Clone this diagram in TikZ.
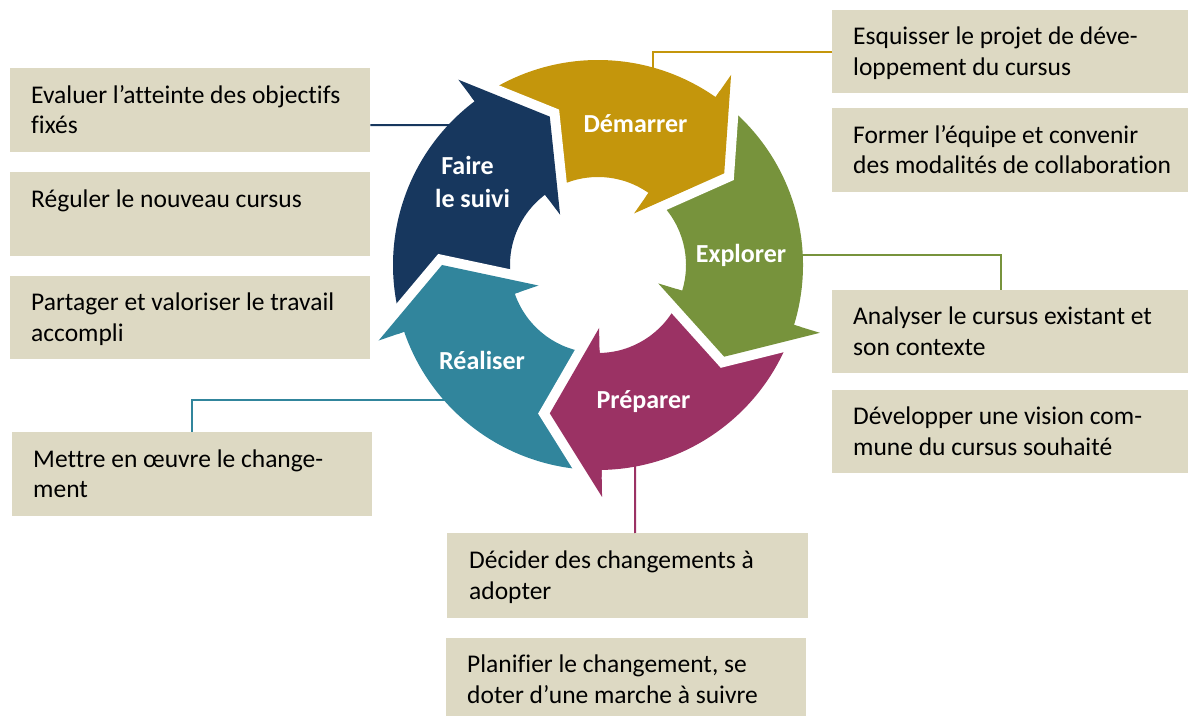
\documentclass[tikz,border=0pt]{standalone}
\usepackage{fontspec}
\setmainfont[Ligatures=CommonOff]{Carlito}
\definecolor{cgold}{HTML}{C4960C}
\definecolor{cgreen}{HTML}{77933C}
\definecolor{cmag}{HTML}{9B3264}
\definecolor{cteal}{HTML}{31859C}
\definecolor{cnavy}{HTML}{17375E}
\definecolor{boxtan}{HTML}{DDD9C3}
\newcommand\mystrut{\rule[-7.5pt]{0pt}{30.5pt}}
\begin{document}
\begin{tikzpicture}[x=1pt,y=1pt,
  tbox/.style={fill=boxtan, draw=none, inner sep=0pt, anchor=north west},
  ttext/.style={align=left, inner sep=0pt, font=\fontsize{25.5}{30.5}\selectfont, text=black, anchor=west,
    execute at begin node=\mystrut, execute at end node=\mystrut},
  lbl/.style={text=white, font=\fontsize{26}{32}\selectfont\bfseries, inner sep=0pt, anchor=base},
  conn/.style={line width=2pt}]
\useasboundingbox (0,0) rectangle (1188,715);
\clip (0,0) rectangle (1188,715);

% boxes left
\node[tbox, minimum width=360pt, minimum height=84pt] (L1) at (10,647) {};
\node[tbox, minimum width=360pt, minimum height=84pt] (L2) at (10,543) {};
\node[tbox, minimum width=360pt, minimum height=83pt] (L3) at (10,439) {};
\node[tbox, minimum width=360pt, minimum height=84pt] (L4) at (12,283) {};
% boxes right
\node[tbox, minimum width=358pt, minimum height=83pt] (R1) at (832,705) {};
\node[tbox, minimum width=358pt, minimum height=84pt] (R2) at (832,607) {};
\node[tbox, minimum width=358pt, minimum height=83pt] (R3) at (832,425) {};
\node[tbox, minimum width=358pt, minimum height=83pt] (R4) at (832,325) {};
% boxes bottom
\node[tbox, minimum width=361pt, minimum height=85pt] (B1) at (447,182) {};
\node[tbox, minimum width=360pt, minimum height=83pt] (B2) at (446,77) {};

% texts
\node[ttext] (tL1) at ([xshift=21pt,yshift=-3pt]L1.west) {Evaluer l’atteinte des objectifs\\fixés};
\node[ttext] (tL2) at ([xshift=21pt,yshift=-3pt]L2.west) {Réguler le nouveau cursus\\ };
\node[ttext] (tL3) at ([xshift=21pt,yshift=-3pt]L3.west) {Partager et valoriser le travail\\accompli};
\node[ttext] (tL4) at ([xshift=21pt,yshift=-3pt]L4.west) {Mettre en œuvre le change-\\ment};
\node[ttext] (tR1) at ([xshift=21pt,yshift=-3pt]R1.west) {Esquisser le projet de déve-\\loppement du cursus};
\node[ttext] (tR2) at ([xshift=21pt,yshift=-3pt]R2.west) {Former l’équipe et convenir\\des modalités de collaboration};
\node[ttext] (tR3) at ([xshift=21pt,yshift=-3pt]R3.west) {Analyser le cursus existant et\\son contexte};
\node[ttext] (tR4) at ([xshift=21pt,yshift=-3pt]R4.west) {Développer une vision com-\\mune du cursus souhaité};
\node[ttext] (tB1) at ([xshift=22pt,yshift=-3pt]B1.west) {Décider des changements à\\adopter};
\node[ttext] (tB2) at ([xshift=21pt,yshift=-3pt]B2.west) {Planifier le changement, se\\doter d’une marche à suivre};

% connector anchor points inside the ring
\coordinate (gA) at (653,640);
\coordinate (nA) at (460,590);
\coordinate (eA) at (795,460);
\coordinate (tA) at (452,315);
\coordinate (mA) at (635,256);

\draw[conn, cgold] (R1.west) -| (gA);
\draw[conn, cnavy] ([yshift=-15pt]L1.east) -- (nA);
\draw[conn, cgreen] (eA) -| ([xshift=-10pt]R3.north);
\draw[conn, cteal] (L4.north) |- (tA);
\draw[conn, cmag] (mA) -- ([xshift=7.5pt]B1.north);

% ring segments
\foreach \rot/\col in {127/cgold, 55/cgreen, -17/cmag, -89/cteal, -161/cnavy} {
  \fill[\col, shift={(598,450)}, rotate=\rot]
    (-4.65:205) arc[start angle=-4.65, end angle=-72, radius=205]
    -- (-72:232) -- (-91:156) -- (-72:63) -- (-72:88)
    arc[start angle=-72, end angle=-9.37, radius=88]
    -- (-19:156) -- cycle;
}
% heads with white gap
\foreach \rot/\col in {127/cgold, 55/cgreen, -17/cmag, -89/cteal, -161/cnavy} {
  \draw[white, line width=20pt, line join=miter, shift={(598,450)}, rotate=\rot-72]
    (0:232) -- (-19:156) -- (0:63);
  \fill[\col, shift={(598,450)}, rotate=\rot-72]
    (0:232) -- (-19:156) -- (0:63) -- cycle;
}

% labels
\node[lbl] (dem) at (635.5,582) {Démarrer};
\node[lbl] (exp) at (741,452) {Explorer};
\node[lbl] (pre) at (643.5,306) {Préparer};
\node[lbl] (rea) at (482,345) {Réaliser};
\node[lbl] (fai1) at (467.5,540) {Faire};
\node[lbl] (fai2) at (472.5,507) {le suivi};
\end{tikzpicture}
\end{document}
